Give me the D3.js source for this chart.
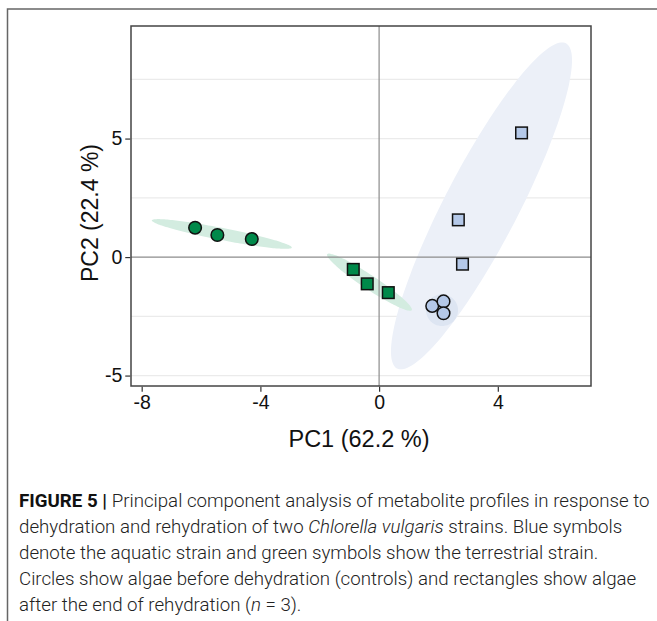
<!DOCTYPE html>
<html>
<head>
<meta charset="utf-8">
<script src="https://cdn.jsdelivr.net/npm/d3@7"></script>
<style>
  body { margin: 0; background: #fff; }
  svg text { font-family: "Liberation Sans", Arial, sans-serif; }
  .caption { font-family: Roboto, "Liberation Sans", sans-serif; font-weight: 300; font-size: 18.7px; fill: #222; }
</style>
</head>
<body>
<script>

// PCA scores
var greenCircles = [[-6.20, 1.24], [-5.45, 0.93], [-4.29, 0.76]];
var greenSquares = [[-0.87, -0.52], [-0.40, -1.13], [0.31, -1.50]];
var blueCircles  = [[1.79, -2.06], [2.17, -1.87], [2.17, -2.37]];
var blueSquares  = [[4.80, 5.24], [2.67, 1.57], [2.81, -0.30]];

// confidence ellipses: centre, half major axis vector, half minor axis vector (data units)
var ellipseCentres = [[3.45, 2.16], [-5.30, 0.975], [-0.325, -1.06], [2.12, -2.24]];
var ellipseMajor   = [[2.845, 6.86], [2.36, -0.575], [1.425, -1.18], [0.54, 0]];
var ellipseMinor   = [[1.10, -0.72], [-0.04, -0.25], [-0.13, -0.25], [0, 0.67]];
var ellipseColours = ["#ecf0f8", "#d3ece0", "#d3ece0", "#dde5f2"];

var xTicks = [-8, -4, 0, 4];
var yTicks = [-5, 0, 5];
var yGrid = [-5, -2.5, 0, 2.5, 5, 7.5];

var captionLines = [
    [["FIGURE 5 | ", "bold"], ["Principal component analysis of metabolite profiles in response to", ""]],
    [["dehydration and rehydration of two ", ""], ["Chlorella vulgaris", "italic"], [" strains. Blue symbols", ""]],
    [["denote the aquatic strain and green symbols show the terrestrial strain.", ""]],
    [["Circles show algae before dehydration (controls) and rectangles show algae", ""]],
    [["after the end of rehydration (", ""], ["n", "italic"], [" = 3).", ""]]
];

var width = 657, height = 621;
var panel = {left: 131, right: 591, top: 26, bottom: 386};

var svg = d3.select("body").append("svg")
    .attr("width", width)
    .attr("height", height);

// outer frame (top and left edges)
svg.append("path")
    .attr("d", "M7.5,621 L7.5,9 L657,9")
    .attr("fill", "none")
    .attr("stroke", "#666")
    .attr("stroke-width", 1.5);

var x = d3.scaleLinear().domain([-8.36, 7.14]).range([panel.left, panel.right]);
var y = d3.scaleLinear().domain([-5.44, 9.75]).range([panel.bottom, panel.top]);

// horizontal grid
svg.append("g").selectAll("line")
    .data(yGrid.filter(function(d) { return d != 0; }))
    .enter().append("line")
    .attr("x1", panel.left).attr("x2", panel.right)
    .attr("y1", function(d) { return y(d); })
    .attr("y2", function(d) { return y(d); })
    .attr("stroke", "#ebebeb")
    .attr("stroke-width", 1.2);

// ellipses
function ellipsePath(i) {
    var pts = d3.range(0, 361, 4).map(function(a) {
        var t = a * Math.PI / 180;
        var c = ellipseCentres[i], M = ellipseMajor[i], m = ellipseMinor[i];
        return [x(c[0] + Math.cos(t) * M[0] + Math.sin(t) * m[0]),
                y(c[1] + Math.cos(t) * M[1] + Math.sin(t) * m[1])];
    });
    return d3.line().curve(d3.curveCardinalClosed)(pts.slice(0, -1));
}

svg.append("g").selectAll("path")
    .data(d3.range(ellipseCentres.length))
    .enter().append("path")
    .attr("d", ellipsePath)
    .attr("fill", function(d) { return ellipseColours[d]; });

// zero lines
svg.append("line")
    .attr("x1", panel.left).attr("x2", panel.right)
    .attr("y1", y(0)).attr("y2", y(0))
    .attr("stroke", "#8c8c8c").attr("stroke-width", 1.2);
svg.append("line")
    .attr("x1", x(0)).attr("x2", x(0))
    .attr("y1", panel.top).attr("y2", panel.bottom)
    .attr("stroke", "#8c8c8c").attr("stroke-width", 1.2);

// points
var green = "#00894a", blue = "#b4c8e8";

function circles(data, fill) {
    svg.append("g").selectAll("circle")
        .data(data)
        .enter().append("circle")
        .attr("cx", function(d) { return x(d[0]); })
        .attr("cy", function(d) { return y(d[1]); })
        .attr("r", 6.3)
        .attr("fill", fill)
        .attr("stroke", "#111")
        .attr("stroke-width", 1.5);
}

function squares(data, fill) {
    svg.append("g").selectAll("rect")
        .data(data)
        .enter().append("rect")
        .attr("x", function(d) { return x(d[0]) - 5.8; })
        .attr("y", function(d) { return y(d[1]) - 5.8; })
        .attr("width", 11.6)
        .attr("height", 11.6)
        .attr("fill", fill)
        .attr("stroke", "#111")
        .attr("stroke-width", 1.5);
}

circles(greenCircles, green);
squares(greenSquares, green);
circles(blueCircles, blue);
squares(blueSquares, blue);

// panel border
svg.append("rect")
    .attr("x", panel.left).attr("y", panel.top)
    .attr("width", panel.right - panel.left)
    .attr("height", panel.bottom - panel.top)
    .attr("fill", "none")
    .attr("stroke", "#444")
    .attr("stroke-width", 1.5);

// axes (hyphen minus like the original)
var fmt = function(d) { return String(d); };
var xAxis = svg.append("g")
    .attr("transform", "translate(0," + (panel.bottom + 0.75) + ")")
    .call(d3.axisBottom(x).tickValues(xTicks).tickSize(5).tickPadding(3).tickFormat(fmt));
var yAxis = svg.append("g")
    .attr("transform", "translate(" + (panel.left - 0.75) + ",0)")
    .call(d3.axisLeft(y).tickValues(yTicks).tickSize(5).tickPadding(3).tickFormat(fmt));

[xAxis, yAxis].forEach(function(ax) {
    ax.select(".domain").remove();
    ax.selectAll(".tick line").attr("stroke", "#333").attr("stroke-width", 1.2);
    ax.selectAll(".tick text")
        .attr("fill", "#111")
        .style("font-size", "19.5px")
        .style("font-family", "Liberation Sans, Arial, sans-serif");
});

svg.append("text")
    .attr("x", (panel.left + panel.right) / 2 - 2)
    .attr("y", 447)
    .attr("text-anchor", "middle")
    .attr("fill", "#111")
    .style("font-size", "23.5px")
    .text("PC1 (62.2 %)");

svg.append("text")
    .attr("transform", "translate(98," + ((panel.top + panel.bottom) / 2 + 7) + ") rotate(-90)")
    .attr("text-anchor", "middle")
    .attr("fill", "#111")
    .style("font-size", "23px")
    .text("PC2 (22.4 %)");

// caption
var caption = svg.append("g");
captionLines.forEach(function(line, i) {
    var t = caption.append("text")
        .attr("class", "caption")
        .attr("x", 19)
        .attr("y", 507 + i * 26);
    line.forEach(function(part) {
        var s = t.append("tspan").text(part[0]);
        if (part[1] == "bold") s.style("font-weight", "700").style("fill", "#111");
        if (part[1] == "italic") s.style("font-style", "italic");
    });
});

</script>
</body>
</html>
